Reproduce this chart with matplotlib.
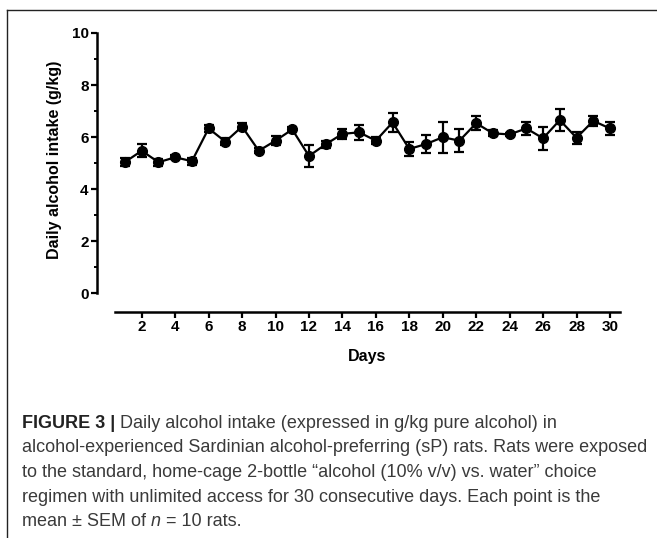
import matplotlib
matplotlib.use("Agg")
from matplotlib import pyplot as plt
from matplotlib.lines import Line2D
from matplotlib.ticker import MultipleLocator

# daily alcohol intake (g/kg), mean and SEM, n = 10 rats
days = list(range(1, 31))
intake = [5.04, 5.47, 5.03, 5.22, 5.07, 6.33, 5.82, 6.40, 5.47, 5.86,
          6.29, 5.27, 5.72, 6.12, 6.18, 5.86, 6.56, 5.54, 5.73, 5.99,
          5.86, 6.53, 6.14, 6.10, 6.33, 5.95, 6.65, 5.97, 6.62, 6.33]
sem = [0.15, 0.25, 0.14, 0.08, 0.14, 0.15, 0.14, 0.14, 0.10, 0.18,
       0.10, 0.42, 0.13, 0.18, 0.28, 0.14, 0.35, 0.28, 0.35, 0.60,
       0.45, 0.26, 0.12, 0.05, 0.26, 0.45, 0.41, 0.23, 0.19, 0.26]
xticks = list(range(2, 31, 2))

caption = [
    "alcohol-experienced Sardinian alcohol-preferring (sP) rats. Rats were exposed",
    "to the standard, home-cage 2-bottle \u201calcohol (10% v/v) vs. water\u201d choice",
    "regimen with unlimited access for 30 consecutive days. Each point is the",
]

plt.rcParams['font.family'] = ['Liberation Sans', 'DejaVu Sans']

W, H = 657, 538
fig = plt.figure(figsize=(W / 100, H / 100), dpi=100)

# axes box in pixels: left 97, right 620, top 33, bottom 312
ax = fig.add_axes([97 / W, 1 - 312 / H, (620 - 97) / W, (312 - 33) / H])
ax.errorbar(days, intake, yerr=sem, color="black", lw=1.6, marker="o",
            ms=7, elinewidth=1.6, capsize=3.5, capthick=1.6)

ax.set_xlim(-0.676, 30.6)
ax.set_ylim(-0.73, 10)
for s in ["top", "right"]:
    ax.spines[s].set_visible(False)
ax.spines["left"].set_bounds(0, 10)
ax.spines["bottom"].set_bounds(0.4, 30.6)
ax.spines["left"].set_linewidth(1.8)
ax.spines["bottom"].set_linewidth(1.8)

ax.set_xticks(xticks)
ax.set_yticks(range(0, 11, 2))
ax.yaxis.set_minor_locator(MultipleLocator(1))
ax.tick_params(axis="both", which="major", length=4.5, width=1.6, pad=1.5,
               labelsize=11)
ax.tick_params(axis="y", which="minor", length=2.5, width=1.4)
for lab in ax.get_xticklabels() + ax.get_yticklabels():
    lab.set_fontweight("bold")

ax.set_xlabel("Days", fontsize=11.5, fontweight="bold")
ax.set_ylabel("Daily alcohol intake (g/kg)", fontsize=11.5, fontweight="bold")
ax.xaxis.set_label_coords(0.516, -0.133)
ax.yaxis.set_label_coords(-0.067, 0.545)

# page frame (top and left rule)
fig.add_artist(Line2D([7 / W, 7 / W], [0, 1 - 10 / H], color="#222222", lw=1.0))
fig.add_artist(Line2D([7 / W, 1], [1 - 10 / H, 1 - 10 / H], color="#222222", lw=1.0))

# caption
tax = fig.add_axes([0, 0, 1, 1])
tax.axis("off")
tax.set_xlim(0, W)
tax.set_ylim(H, 0)
cc = "#3a3a3a"
fs = 13.0
x0 = 22
t = tax.text(x0, 423, "FIGURE 3 |", fontsize=fs, fontweight="bold", color="#222222",
             va="center")
tax.annotate(" Daily alcohol intake (expressed in g/kg pure alcohol) in",
             xy=(1, 0), xycoords=t, va="bottom", fontsize=fs, color=cc)
for i, line in enumerate(caption):
    tax.text(x0, 448 + 24.5 * i, line, fontsize=fs, color=cc, va="center")
t1 = tax.text(x0, 521, "mean \u00b1 SEM of ", fontsize=fs, color=cc, va="center")
t2 = tax.annotate("n", xy=(1, 0), xycoords=t1, va="bottom", fontsize=fs,
                  color=cc, style="italic")
tax.annotate(" = 10 rats.", xy=(1, 0), xycoords=t2, va="bottom", fontsize=fs, color=cc)

fig.savefig("out.png", dpi=100)
